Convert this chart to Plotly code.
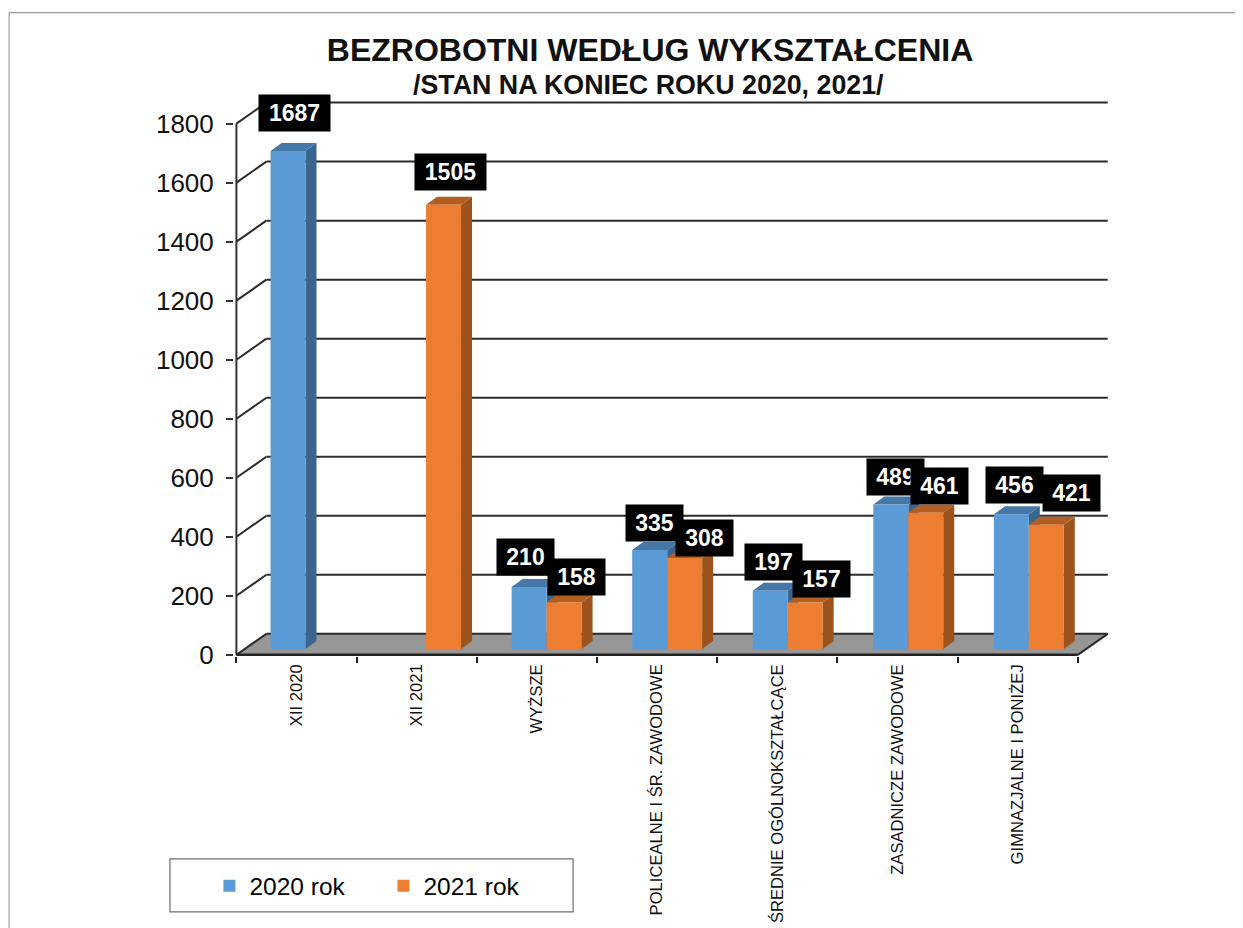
import plotly.graph_objects as go

# ---- data ----
categories = ["XII 2020", "XII 2021", "WYŻSZE", "POLICEALNE I ŚR. ZAWODOWE",
              "ŚREDNIE OGÓLNOKSZTAŁCĄCE", "ZASADNICZE ZAWODOWE", "GIMNAZJALNE I PONIŻEJ"]
values_2020 = [1687, None, 210, 335, 197, 489, 456]
values_2021 = [None, 1505, 158, 308, 157, 461, 421]
y_ticks = [0, 200, 400, 600, 800, 1000, 1200, 1400, 1600, 1800]
series_names = ["2020 rok", "2021 rok"]

# hand-placed label offsets in the reference (px right, px up from bar top centre)
nudge_2020 = [(6.5, 38), None, (-3.3, 30), (5, 27), (3.3, 29), (4.6, 28), (3, 29.5)]
nudge_2021 = [None, (6.8, 33), (12.7, 25.4), (20, 20), (16.3, 23.7), (13.6, 27), (25, 31.8)]

# ---- geometry (pixel scale of the axes) ----
PAGE_W, PAGE_H = 1243, 928
OFF = 8                       # the page body margin
W, H = PAGE_W - OFF, PAGE_H - OFF
PX_X = 120.3      # px per category
PX_Y = 0.295      # px per value unit
X0_PX, Y0_PX = 236 - OFF, 655 - OFF
XMIN, XMAX = -0.02, 7.26
YMIN, YMAX = -4, 1880
L = X0_PX + XMIN * PX_X
R = X0_PX + XMAX * PX_X
T = Y0_PX - YMAX * PX_Y
B = Y0_PX - YMIN * PX_Y

WALL_DX = 30 / PX_X
WALL_DY = 21 / PX_Y
BAR_W = 35 / PX_X
BAR_BASE = 20
BAR_DX = 11 / PX_X
BAR_DY = 8 / PX_Y
centers = [0.575 + i * 1.003 for i in range(len(categories))]


def px(x):   # page px -> paper
    return (x - OFF - L) / (R - L)


def py(y):
    return (B - (y - OFF)) / (B - T)


BLUE, BLUE_SIDE, BLUE_TOP = "#5B9BD5", "#3A658C", "#4578A6"
ORANGE, ORANGE_SIDE, ORANGE_TOP = "#ED7D31", "#9C531D", "#B25E23"
GRID = "#2b2b2b"
FLOOR = "#969696"

shapes = []


def poly(pts, fill, layer="below"):
    d = "M" + " L".join(f"{a},{b}" for a, b in pts) + " Z"
    shapes.append(dict(type="path", path=d, xref="x", yref="y", fillcolor=fill,
                       line=dict(width=0), layer=layer))


def seg(x1, y1, x2, y2, color=GRID, width=2):
    shapes.append(dict(type="line", xref="x", yref="y", x0=x1, y0=y1, x1=x2, y1=y2,
                       line=dict(color=color, width=width), layer="below"))


# floor
poly([(0, 0), (7, 0), (7 + WALL_DX, WALL_DY), (WALL_DX, WALL_DY)], FLOOR)
# back-wall grid and diagonals
for v in y_ticks:
    seg(0, v, WALL_DX, v + WALL_DY)
    seg(WALL_DX, v + WALL_DY, 7 + WALL_DX, v + WALL_DY)
seg(7, 0, 7 + WALL_DX, WALL_DY)
# front axes
seg(0, 0, 0, 1800, "#333333", 2)
seg(0, 0, 7, 0, "#222222", 2.5)


def bar_faces(vals, shift, side, top):
    for c, v in zip(centers, vals):
        if v is None:
            continue
        x0, x1 = c + shift, c + shift + BAR_W
        yb, yt = BAR_BASE, BAR_BASE + v
        poly([(x1, yb), (x1 + BAR_DX, yb + BAR_DY), (x1 + BAR_DX, yt + BAR_DY), (x1, yt)], side)
        poly([(x0, yt), (x1, yt), (x1 + BAR_DX, yt + BAR_DY), (x0 + BAR_DX, yt + BAR_DY)], top)


bar_faces(values_2020, -BAR_W, BLUE_SIDE, BLUE_TOP)
bar_faces(values_2021, 0, ORANGE_SIDE, ORANGE_TOP)

# page frame and legend box
frame = "#9a9a9a"
for x0, y0, x1, y1 in [(8.5, 13, PAGE_W, 13), (8.5, 13, 8.5, PAGE_H)]:
    shapes.append(dict(type="line", xref="paper", yref="paper", x0=px(x0), y0=py(y0),
                       x1=px(x1), y1=py(y1), line=dict(color=frame, width=1.2)))
shapes.append(dict(type="rect", xref="paper", yref="paper", x0=px(169.5), y0=py(859),
                   x1=px(573), y1=py(912), line=dict(color="#6e6e6e", width=1.2)))

fig = go.Figure()
fig.add_bar(name=series_names[0], x=centers, y=values_2020, base=BAR_BASE, width=BAR_W,
            offset=-BAR_W, marker=dict(color=BLUE, line=dict(width=0)))
fig.add_bar(name=series_names[1], x=centers, y=values_2021, base=BAR_BASE, width=BAR_W,
            offset=0, marker=dict(color=ORANGE, line=dict(width=0)))

annotations = []


def add_labels(vals, nudges, shift):
    for c, v, n in zip(centers, vals, nudges):
        if v is None:
            continue
        annotations.append(dict(
            x=c + shift, y=BAR_BASE + v, xref="x", yref="y", xshift=n[0], yshift=n[1],
            text=f"<b>{v}</b>", showarrow=False, xanchor="center", yanchor="middle",
            bgcolor="#000000", width=67 if v >= 1000 else 53, height=32, borderpad=2,
            font=dict(family="Liberation Sans", size=23, color="#ffffff")))


add_labels(values_2020, nudge_2020, -BAR_W / 2)
add_labels(values_2021, nudge_2021, BAR_W / 2)

annotations.append(dict(
    x=px(648.5), y=py(85), xref="paper", yref="paper", showarrow=False,
    text="<b>/STAN NA KONIEC ROKU 2020, 2021/</b>", xanchor="center", yanchor="middle",
    font=dict(family="Liberation Sans", size=26.8, color="#111111")))

fig.update_layout(
    width=W, height=H, autosize=False,
    margin=dict(l=L, r=W - R, t=T, b=H - B, pad=0, autoexpand=False),
    paper_bgcolor="white", plot_bgcolor="rgba(0,0,0,0)",
    barmode="overlay", shapes=shapes, annotations=annotations,
    font=dict(family="Liberation Sans", color="#111111"),
    title=dict(text="<b>BEZROBOTNI WEDŁUG WYKSZTAŁCENIA</b>", x=px(650), y=1 - (50 - OFF) / H,
               xref="paper", yref="container", xanchor="center", yanchor="middle",
               font=dict(family="Liberation Sans", size=32, color="#111111")),
    xaxis=dict(range=[XMIN, XMAX], tickmode="array",
               tickvals=[i + 0.5 for i in range(len(categories))], ticktext=categories,
               tickangle=-90, ticks="", showgrid=False, zeroline=False, showline=False,
               ticklabelstandoff=4, tickfont=dict(size=16.6, color="#111111"),
               minor=dict(tickmode="array", tickvals=list(range(8)), ticks="outside",
                          ticklen=6, tickwidth=1.5, tickcolor="#222222", showgrid=False)),
    yaxis=dict(range=[YMIN, YMAX], tickmode="array", tickvals=y_ticks, ticks="outside",
               ticklen=7, tickwidth=1.5, tickcolor="#333333", showgrid=False, zeroline=False,
               showline=False, ticklabelstandoff=7,
               tickfont=dict(size=26, color="#111111")),
    showlegend=True,
    legend=dict(orientation="h", x=px(209), y=py(886), xanchor="left", yanchor="middle",
                font=dict(size=24.5, color="#000000"), bgcolor="rgba(0,0,0,0)", borderwidth=0,
                entrywidth=129, entrywidthmode="pixels", itemclick=False, itemdoubleclick=False,
                traceorder="normal"),
)

fig.write_html("out.html")
